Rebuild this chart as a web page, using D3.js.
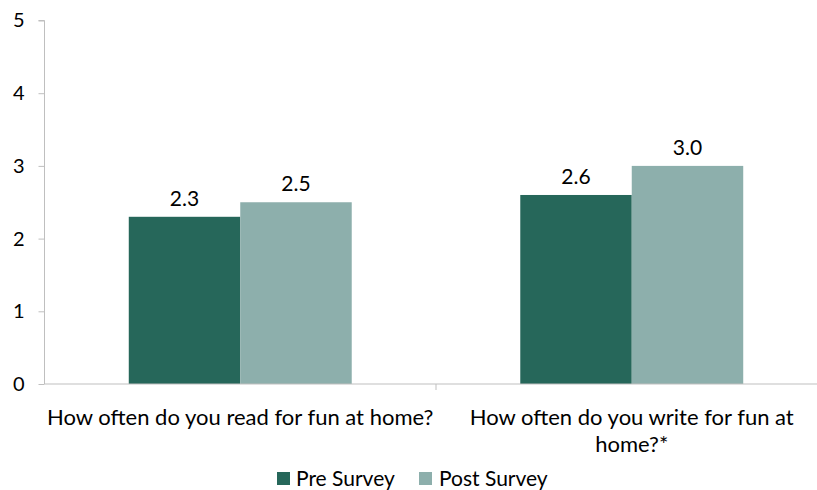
<!DOCTYPE html>
<html><head><meta charset="utf-8">
<script src="https://cdn.jsdelivr.net/npm/d3@7"></script>
<style>body{margin:0;background:#fff}svg{display:block}text{font-family:Lato,"Open Sans",sans-serif;fill:#000}</style>
</head><body><svg id="c" width="817" height="490"></svg>
<script>
const categories = ["How often do you read for fun at home?", "How often do you write for fun at home?*"];
const categoryLines = [["How often do you read for fun at home?"], ["How often do you write for fun at", "home?*"]];
const seriesNames = ["Pre Survey", "Post Survey"];
const preValues = [2.3, 2.6];
const postValues = [2.5, 3.0];
const yTicks = [0, 1, 2, 3, 4, 5];
const colors = ["#26675A", "#8DAFAC"];

const svg = d3.select("#c");
const x0 = 44.5, x1 = 827.5, yTop = 20.5, yBot = 384;
const x = d3.scaleBand().domain(categories).range([x0, x1]).paddingInner(0).paddingOuter(0);
const inner = d3.scaleBand().domain(seriesNames).range([0, x.bandwidth()]).paddingInner(0).paddingOuter(0.756);
const y = d3.scaleLinear().domain([0, 5]).range([yBot, yTop]);
const axisColor = "#BFBFBF";

// y axis
const ya = svg.append("g").attr("transform", `translate(${x0},0)`)
  .call(d3.axisLeft(y).tickValues(yTicks).tickSize(6).tickPadding(14).tickFormat(d3.format("d")));
ya.select(".domain").attr("stroke", axisColor).attr("d", `M-6,${yTop}H0V${yBot}`);
ya.selectAll(".tick line").attr("stroke", axisColor);
ya.selectAll(".tick text").attr("font-size", 20).attr("font-family", "Lato").attr("fill", "#000");

const data = categories.map((c, i) => ({cat: c, vals: [preValues[i], postValues[i]]}));
const groups = svg.append("g").selectAll("g").data(data).join("g")
  .attr("transform", d => `translate(${x(d.cat)},0)`);
groups.selectAll("rect").data(d => d.vals.map((v, j) => ({v, s: seriesNames[j], j})))
  .join("rect")
  .attr("x", d => inner(d.s)).attr("width", inner.bandwidth())
  .attr("y", d => y(d.v)).attr("height", d => yBot - y(d.v))
  .attr("fill", d => colors[d.j]);
groups.selectAll("text.val").data(d => d.vals.map((v, j) => ({v, s: seriesNames[j]})))
  .join("text").attr("class", "val")
  .attr("x", d => inner(d.s) + inner.bandwidth() / 2)
  .attr("y", d => y(d.v) - 11)
  .attr("text-anchor", "middle").attr("font-size", 21)
  .text(d => d3.format(".1f")(d.v));

// x axis
const xa = svg.append("g").attr("transform", `translate(0,${yBot})`)
  .call(d3.axisBottom(x).tickSize(0).tickFormat(""));
xa.select(".domain").attr("stroke", axisColor).attr("d", `M${x0},0H${x1}`);
svg.append("g").selectAll("line").data(categories.slice(1)).join("line")
  .attr("x1", d => x(d)).attr("x2", d => x(d)).attr("y1", yBot).attr("y2", yBot + 6)
  .attr("stroke", axisColor);

// category labels
svg.append("g").selectAll("text").data(categories).join("text")
  .attr("text-anchor", "middle").attr("font-size", 22)
  .attr("transform", d => `translate(${x(d) + x.bandwidth() / 2},${425})`)
  .each(function(d, i) {
    d3.select(this).selectAll("tspan").data(categoryLines[i]).join("tspan")
      .attr("x", 0).attr("dy", (l, k) => k === 0 ? 0 : 27).text(l => l);
  });

// legend
const legendItems = [{name: seriesNames[0], sx: 277, tx: 296}, {name: seriesNames[1], sx: 419, tx: 439}];
const lg = svg.append("g");
legendItems.forEach((it, i) => {
  lg.append("rect").attr("x", it.sx).attr("y", 472).attr("width", 13).attr("height", 13).attr("fill", colors[i]);
  lg.append("text").attr("x", it.tx).attr("y", 485.5).attr("font-size", 21).text(it.name);
});
</script></body></html>
